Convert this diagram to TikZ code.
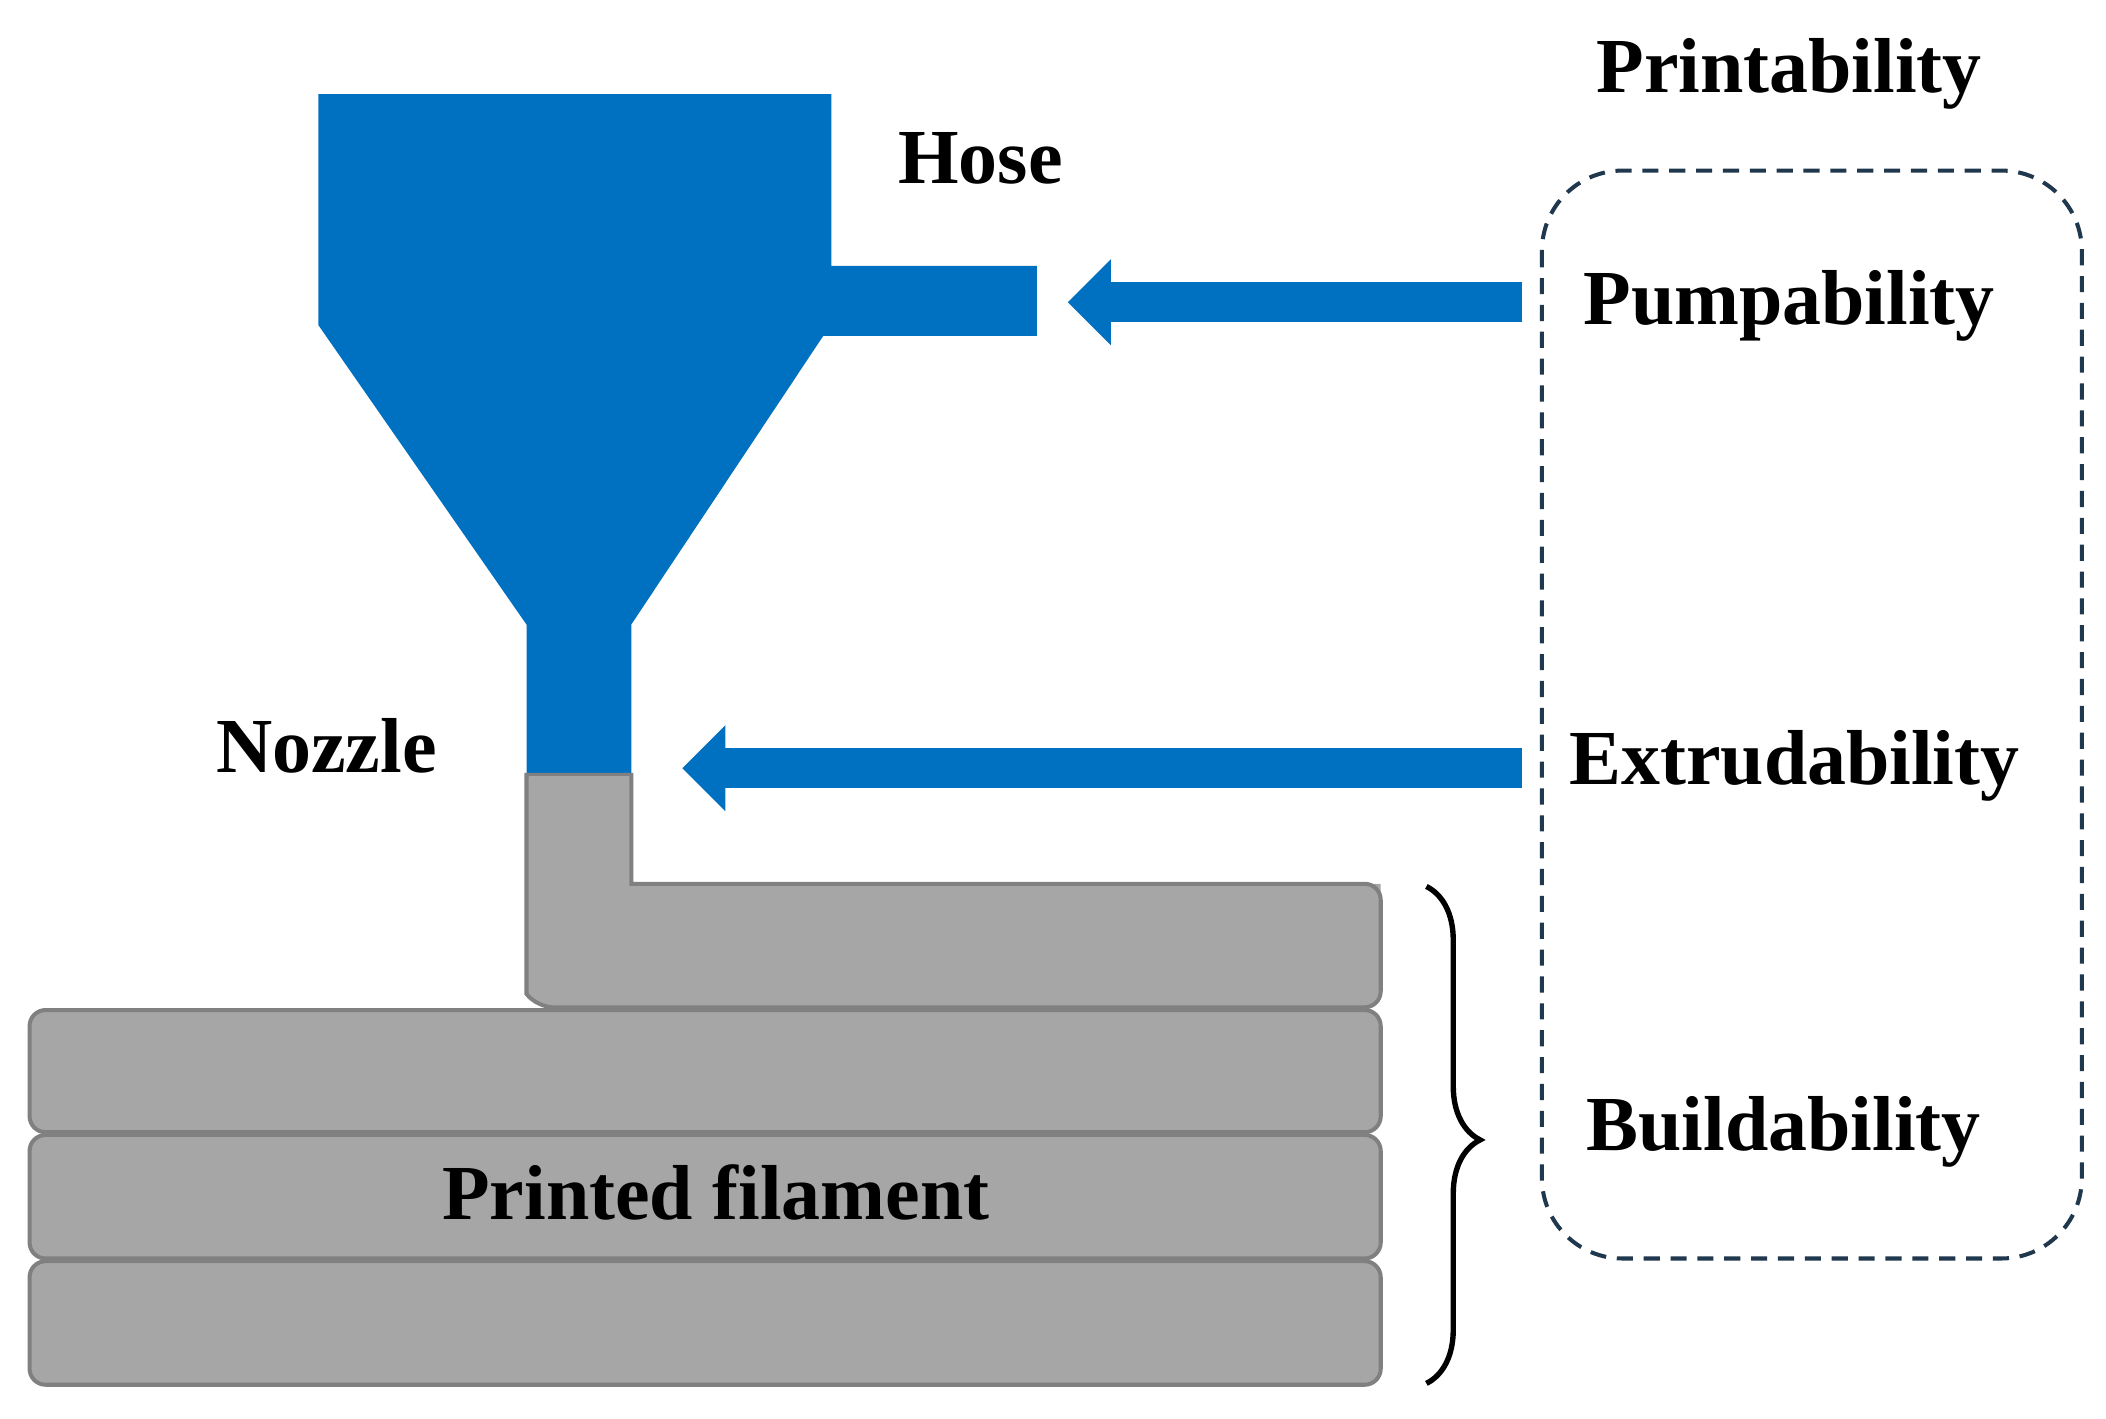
\documentclass[tikz,border=0pt]{standalone}
\usepackage{fontspec}
\setmainfont{Liberation Serif}
\usetikzlibrary{arrows.meta,decorations.pathreplacing}
\definecolor{pblue}{RGB}{0,112,192}
\definecolor{lgrey}{RGB}{166,166,166}
\definecolor{dgrey}{RGB}{128,128,128}
\definecolor{dashc}{RGB}{31,56,77}
\tikzset{every picture/.style={line width=0.75pt}}
\begin{document}
\begin{tikzpicture}[x=1pt,y=1pt,yscale=-1,xscale=1,
  lbl/.style={font=\fontsize{58}{64}\selectfont\bfseries},
  layer/.style={fill=lgrey,draw=dgrey,line width=3pt,rounded corners=12pt},
  flow/.style={draw=pblue,line width=30pt,-{Triangle[width=62pt,length=32pt]}}]
	\useasboundingbox (0,0) rectangle (1568,1056);
	
	%Shape: hopper with hose and nozzle
	\fill[pblue] (237,70) -- (619,70) -- (619,198) -- (772,198) -- (772,250) -- (613,250)
	  -- (470,465) -- (470,577) -- (392,577) -- (392,465) -- (237,242) -- cycle ;
	
	%Shape: printed layers
	\draw[layer] (22,752) rectangle (1028,843);
	\draw[layer] (22,845) rectangle (1028,937);
	\draw[layer] (22,939) rectangle (1028,1031);
	%Shape: extruded material
	\draw[fill=lgrey,draw=none] (392,577) -- (470,577) -- (470,658) -- (1028,658) -- (1028,700) -- (392,700) -- cycle ;
	\draw[layer] (392,700) [sharp corners]-- (392,577) -- (470,577) -- (470,658) [rounded corners=12pt]-- (1028,658) -- (1028,750) -- (400,750) [sharp corners]-- (392,740) -- cycle ;
	\fill[lgrey] (393.5,578) rectangle (468.5,600);
	
	%Shape: dashed frame
	\draw[dashc,dashed,line width=3pt,dash pattern=on 12pt off 8pt,rounded corners=60pt] (1148,127) rectangle (1550,937);
	
	% Text Nodes
	\node[lbl] (print) at (1332,55) {Printability};
	\node[lbl] (hose) at (730,118) {Hose};
	\node[lbl] (pump) at (1332,228) {Pumpability};
	\node[lbl] (extr) at (1336,570) {Extrudability};
	\node[lbl] (build) at (1328,843) {Buildability};
	\node[lbl] (nozzle) at (243,555) {Nozzle};
	\node[lbl] (fil) at (533,888) {Printed filament};
	
	%Arrows
	\coordinate (hosein) at (795,225);
	\coordinate (nozin) at (508,572);
	\draw[flow] (1133,225) -- (hosein);
	\draw[flow] (1133,572) -- (nozin);
	
	%Brace
	\draw[line width=4pt,decorate,decoration={brace,amplitude=40pt,aspect=0.51}] (1062,660) -- (1062,1030);
\end{tikzpicture}
\end{document}
